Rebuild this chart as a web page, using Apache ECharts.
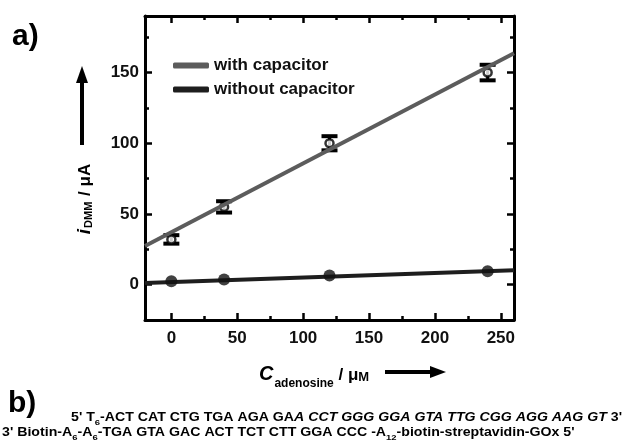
<!DOCTYPE html>
<html>
<head>
<meta charset="utf-8">
<script src="https://cdn.jsdelivr.net/npm/echarts@6/dist/echarts.min.js"></script>
<style>
  html, body { margin: 0; padding: 0; background: #fff; }
  #chart { width: 624px; height: 442px; }
</style>
</head>
<body>
<div id="chart"></div>
<script>
// 数据
var conc = [0, 40, 120, 240];
var withCap = [32, 55, 100, 150];
var withErr = [3, 4, 5, 5.5];
var withoutCap = [2.4, 3.6, 6.4, 9.5];
// 拟合直线两端
var fitX = [-20, 260];
var fitWith = [27.3, 163.6];
var fitWithout = [1.2, 10.2];

var chart = echarts.init(document.getElementById('chart'));

function pairs(xs, ys) {
  return xs.map(function (x, i) { return [x, ys[i]]; });
}

var FONT = '"Liberation Sans", Arial, sans-serif';

// 坐标轴样式（四边都有刻度，朝内）
function axisCommon(showLabel) {
  return {
    axisLine: { show: true, onZero: false, lineStyle: { color: '#000', width: 3 } },
    axisTick: { show: true, inside: true, length: 7, lineStyle: { color: '#000', width: 2.5 } },
    minorTick: { show: true, splitNumber: 2, length: 4, lineStyle: { color: '#000', width: 2.5 } },
    splitLine: { show: false },
    minorSplitLine: { show: false },
    axisLabel: {
      show: showLabel,
      showMinLabel: false,
      showMaxLabel: false,
      color: '#111',
      fontFamily: FONT,
      fontWeight: 'bold',
      fontSize: 17
    }
  };
}

var xBottom = Object.assign({ type: 'value', min: -20, max: 260, position: 'bottom' }, axisCommon(true));
xBottom.axisLabel.margin = 10;
var xTop = Object.assign({ type: 'value', min: -20, max: 260, position: 'top' }, axisCommon(false));
var yLeft = Object.assign({ type: 'value', min: -25, max: 190, position: 'left' }, axisCommon(true));
yLeft.axisLabel.margin = 6;
var yRight = Object.assign({ type: 'value', min: -25, max: 190, position: 'right' }, axisCommon(false));

var seqStyle = {
  b: { font: 'bold 12px ' + FONT, fill: '#000', lineHeight: 14, verticalAlign: 'bottom' },
  i: { font: 'italic bold 12px ' + FONT, fill: '#000', lineHeight: 14, verticalAlign: 'bottom' },
  u: { font: 'bold 8px ' + FONT, fill: '#000', lineHeight: 10, verticalAlign: 'bottom', padding: [0, 0, -3, 0] }
};

option = {
  animation: false,
  backgroundColor: '#fff',
  grid: { left: 145, right: 110, top: 16, bottom: 122, containLabel: false },
  legend: {
    orient: 'vertical',
    left: 168,
    top: 52,
    itemWidth: 36,
    itemHeight: 6,
    itemGap: 7,
    icon: 'roundRect',
    data: ['with capacitor', 'without capacitor'],
    textStyle: { color: '#111', fontFamily: FONT, fontWeight: 'bold', fontSize: 17 }
  },
  xAxis: [xBottom, xTop],
  yAxis: [yLeft, yRight],
  series: [
    {
      name: 'with capacitor err',
      type: 'custom',
      z: 3,
      data: conc.map(function (x, i) { return [x, withCap[i], withErr[i]]; }),
      renderItem: function (params, api) {
        var top = api.coord([api.value(0), api.value(1) + api.value(2)]);
        var bot = api.coord([api.value(0), api.value(1) - api.value(2)]);
        var hw = 8;
        var st = { stroke: '#000', lineWidth: 3 };
        var cap = { stroke: '#000', lineWidth: 4 };
        return {
          type: 'group',
          children: [
            { type: 'line', shape: { x1: top[0], y1: top[1], x2: bot[0], y2: bot[1] }, style: st },
            { type: 'line', shape: { x1: top[0] - hw, y1: top[1], x2: top[0] + hw, y2: top[1] }, style: cap },
            { type: 'line', shape: { x1: bot[0] - hw, y1: bot[1], x2: bot[0] + hw, y2: bot[1] }, style: cap }
          ]
        };
      }
    },
    {
      name: 'with capacitor pts',
      type: 'scatter',
      z: 4,
      symbol: 'circle',
      symbolSize: 8,
      itemStyle: { color: '#fff', borderColor: '#000', borderWidth: 2.5 },
      data: pairs(conc, withCap)
    },
    {
      name: 'without capacitor',
      type: 'line',
      z: 5,
      showSymbol: false,
      color: '#1e1e1e',
      lineStyle: { width: 4, color: '#1e1e1e' },
      data: pairs(fitX, fitWithout)
    },
    {
      name: 'without capacitor pts',
      type: 'scatter',
      z: 6,
      symbol: 'circle',
      symbolSize: 12,
      itemStyle: { color: '#111' },
      data: pairs(conc, withoutCap)
    },
    {
      name: 'with capacitor',
      type: 'line',
      z: 7,
      showSymbol: false,
      color: '#5c5c5c',
      lineStyle: { width: 4, color: '#5c5c5c' },
      data: pairs(fitX, fitWith)
    }
  ],
  graphic: [
    // a) b) 标号
    { type: 'text', left: 12, top: 22, style: { text: 'a)', fill: '#000', font: 'bold 30px ' + FONT } },
    { type: 'text', left: 8, top: 389, style: { text: 'b)', fill: '#000', font: 'bold 30px ' + FONT } },
    // y 轴标题
    {
      type: 'text', x: 83, y: 199, rotation: Math.PI / 2,
      style: {
        text: '{i|i}{s|DMM}{n| / μA}',
        align: 'center', verticalAlign: 'middle',
        rich: {
          i: { font: 'italic bold 19px ' + FONT, fill: '#000', lineHeight: 22, verticalAlign: 'bottom' },
          s: { font: 'bold 11px ' + FONT, fill: '#000', padding: [0, 1, 0, 1], verticalAlign: 'bottom', lineHeight: 22 },
          n: { font: 'bold 17px ' + FONT, fill: '#000', lineHeight: 22, verticalAlign: 'bottom' }
        }
      }
    },
    // y 轴箭头
    { type: 'line', shape: { x1: 82, y1: 145, x2: 82, y2: 80 }, style: { stroke: '#000', lineWidth: 4 } },
    { type: 'polygon', shape: { points: [[82, 66], [76, 83], [88, 83]] }, style: { fill: '#000' } },
    // x 轴标题
    {
      type: 'text', x: 259, y: 372,
      style: {
        text: '{c|C}{s|adenosine}{n| / μ}{m|M}',
        align: 'left', verticalAlign: 'middle',
        rich: {
          c: { font: 'italic bold 20px ' + FONT, fill: '#000', lineHeight: 24, verticalAlign: 'bottom' },
          s: { font: 'bold 12px ' + FONT, fill: '#000', lineHeight: 18, verticalAlign: 'bottom', padding: [0, 0, -6, 1] },
          n: { font: 'bold 17px ' + FONT, fill: '#000', lineHeight: 24, verticalAlign: 'bottom' },
          m: { font: 'bold 13px ' + FONT, fill: '#000', lineHeight: 22, verticalAlign: 'bottom' }
        }
      }
    },
    // x 轴箭头
    { type: 'line', shape: { x1: 385, y1: 372, x2: 432, y2: 372 }, style: { stroke: '#000', lineWidth: 4 } },
    { type: 'polygon', shape: { points: [[446, 372], [430, 366], [430, 378]] }, style: { fill: '#000' } },
    // 序列文字（原图字体较宽，横向拉伸）
    {
      type: 'text', x: 71, y: 410, scaleX: 1.18,
      style: {
        text: "{b|5' T}{u|6}{b|-ACT CAT CTG TGA AGA GA}{i|A CCT GGG GGA GTA TTG CGG AGG AAG GT}{b| 3'}",
        rich: seqStyle
      }
    },
    {
      type: 'text', x: 2, y: 425, scaleX: 1.18,
      style: {
        text: "{b|3' Biotin-A}{u|6}{b|-A}{u|6}{b|-TGA GTA GAC ACT TCT CTT GGA CCC -A}{u|12}{b|-biotin-streptavidin-GOx 5'}",
        rich: seqStyle
      }
    }
  ]
};

chart.setOption(option);
</script>
</body>
</html>
